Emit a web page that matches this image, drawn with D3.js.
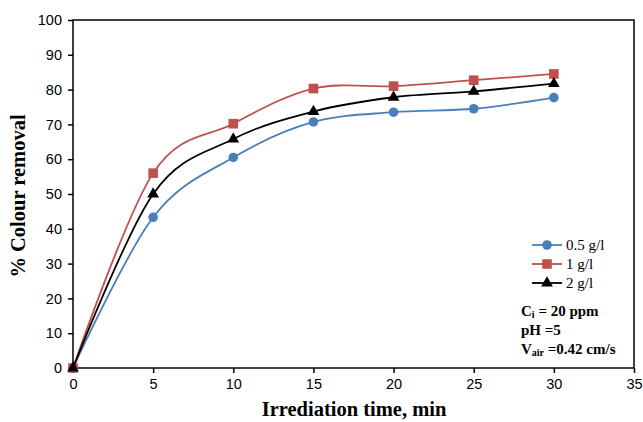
<!DOCTYPE html>
<html>
<head>
<script src="https://cdnjs.cloudflare.com/ajax/libs/d3/7.8.5/d3.min.js"></script>
<style>
  body { margin: 0; background: #fff; }
  .tick text { font-family: "Liberation Sans", Arial, sans-serif; font-size: 14.5px; fill: #000; }
  .ttl { font-family: "Liberation Serif", "Times New Roman", serif; font-weight: bold; }
</style>
</head>
<body>
<svg id="chart" width="643" height="422"></svg>
<script>
// irradiation time, min
var times = [0, 5, 10, 15, 20, 25, 30];
// % colour removal for each catalyst dose
var dose05 = [0, 43.3, 60.5, 70.7, 73.5, 74.5, 77.7];
var dose1  = [0, 56.0, 70.2, 80.3, 81.0, 82.7, 84.5];
var dose2  = [0, 50.0, 65.8, 73.7, 77.8, 79.5, 81.7];
var seriesNames = ["0.5 g/l", "1 g/l", "2 g/l"];
var xTicks = [0, 5, 10, 15, 20, 25, 30, 35];
var yTicks = [0, 10, 20, 30, 40, 50, 60, 70, 80, 90, 100];

var svg = d3.select("#chart");
var pLeft = 73, pRight = 634, pTop = 20, pBottom = 368;

var x = d3.scaleLinear().domain([0, 35]).range([pLeft, pRight]);
var y = d3.scaleLinear().domain([0, 100]).range([pBottom, pTop]);

// frame
svg.append("rect")
	.attr("x", pLeft).attr("y", pTop)
	.attr("width", pRight - pLeft).attr("height", pBottom - pTop)
	.attr("fill", "none").attr("stroke", "#000").attr("stroke-width", 1.5);

svg.append("g")
	.attr("transform", "translate(0," + pBottom + ")")
	.call(d3.axisBottom(x).tickValues(xTicks).tickSize(5).tickPadding(6))
	.call(function(g) { g.select(".domain").remove(); })
	.selectAll("line").attr("stroke", "#000").attr("stroke-width", 1.5);

svg.append("g")
	.attr("transform", "translate(" + pLeft + ",0)")
	.call(d3.axisLeft(y).tickValues(yTicks).tickSize(5).tickPadding(6))
	.call(function(g) { g.select(".domain").remove(); })
	.selectAll("line").attr("stroke", "#000").attr("stroke-width", 1.5);

var series = [
	{ name: seriesNames[0], values: dose05, color: "#4a7ebb", marker: "circle" },
	{ name: seriesNames[1], values: dose1,  color: "#c0504d", marker: "square" },
	{ name: seriesNames[2], values: dose2,  color: "#000000", marker: "triangle" }
];

var line = d3.line()
	.x(function(d, i) { return x(times[i]); })
	.y(function(d) { return y(d); })
	.curve(d3.curveCatmullRom.alpha(0));

function marker(g, type, color) {
	if (type === "circle") {
		g.append("circle").attr("r", 4.8).attr("fill", color);
	} else if (type === "square") {
		g.append("rect").attr("x", -4.8).attr("y", -4.8).attr("width", 9.6).attr("height", 9.6)
			.attr("fill", color);
	} else {
		g.append("path").attr("d", d3.symbol().type(d3.symbolTriangle).size(60)()).attr("fill", color);
	}
}

series.forEach(function(s) {
	svg.append("path")
		.attr("d", line(s.values))
		.attr("fill", "none")
		.attr("stroke", s.color)
		.attr("stroke-width", 1.8);
	s.values.forEach(function(v, i) {
		var g = svg.append("g").attr("transform", "translate(" + x(times[i]) + "," + y(v) + ")");
		marker(g, s.marker, s.color);
	});
});

// legend
series.forEach(function(s, i) {
	var ly = 245 + i * 19;
	svg.append("line")
		.attr("x1", 532).attr("x2", 562).attr("y1", ly).attr("y2", ly)
		.attr("stroke", s.color).attr("stroke-width", 1.8);
	var g = svg.append("g").attr("transform", "translate(547," + ly + ")");
	marker(g, s.marker, s.color);
	svg.append("text")
		.attr("x", 566).attr("y", ly + 5)
		.attr("font-family", "Liberation Serif, Times New Roman, serif")
		.attr("font-size", 15)
		.text(s.name);
});

// conditions
var notes = svg.append("g").attr("class", "ttl").attr("font-size", 15);
var t1 = notes.append("text").attr("x", 521).attr("y", 316);
t1.append("tspan").text("C");
t1.append("tspan").attr("font-size", 10).attr("dy", 2).text("i");
t1.append("tspan").attr("dy", -2).text(" = 20 ppm");
notes.append("text").attr("x", 521).attr("y", 335).text("pH =5");
var t3 = notes.append("text").attr("x", 521).attr("y", 354);
t3.append("tspan").text("V");
t3.append("tspan").attr("font-size", 10).attr("dy", 2).text("air");
t3.append("tspan").attr("dy", -2).text(" =0.42 cm/s");

// axis titles
svg.append("text").attr("class", "ttl")
	.attr("x", 354).attr("y", 416)
	.attr("text-anchor", "middle")
	.attr("font-size", 20.5)
	.text("Irrediation time, min");

svg.append("text").attr("class", "ttl")
	.attr("transform", "translate(25,196) rotate(-90)")
	.attr("text-anchor", "middle")
	.attr("font-size", 20.5)
	.text("% Colour removal");
</script>
</body>
</html>
